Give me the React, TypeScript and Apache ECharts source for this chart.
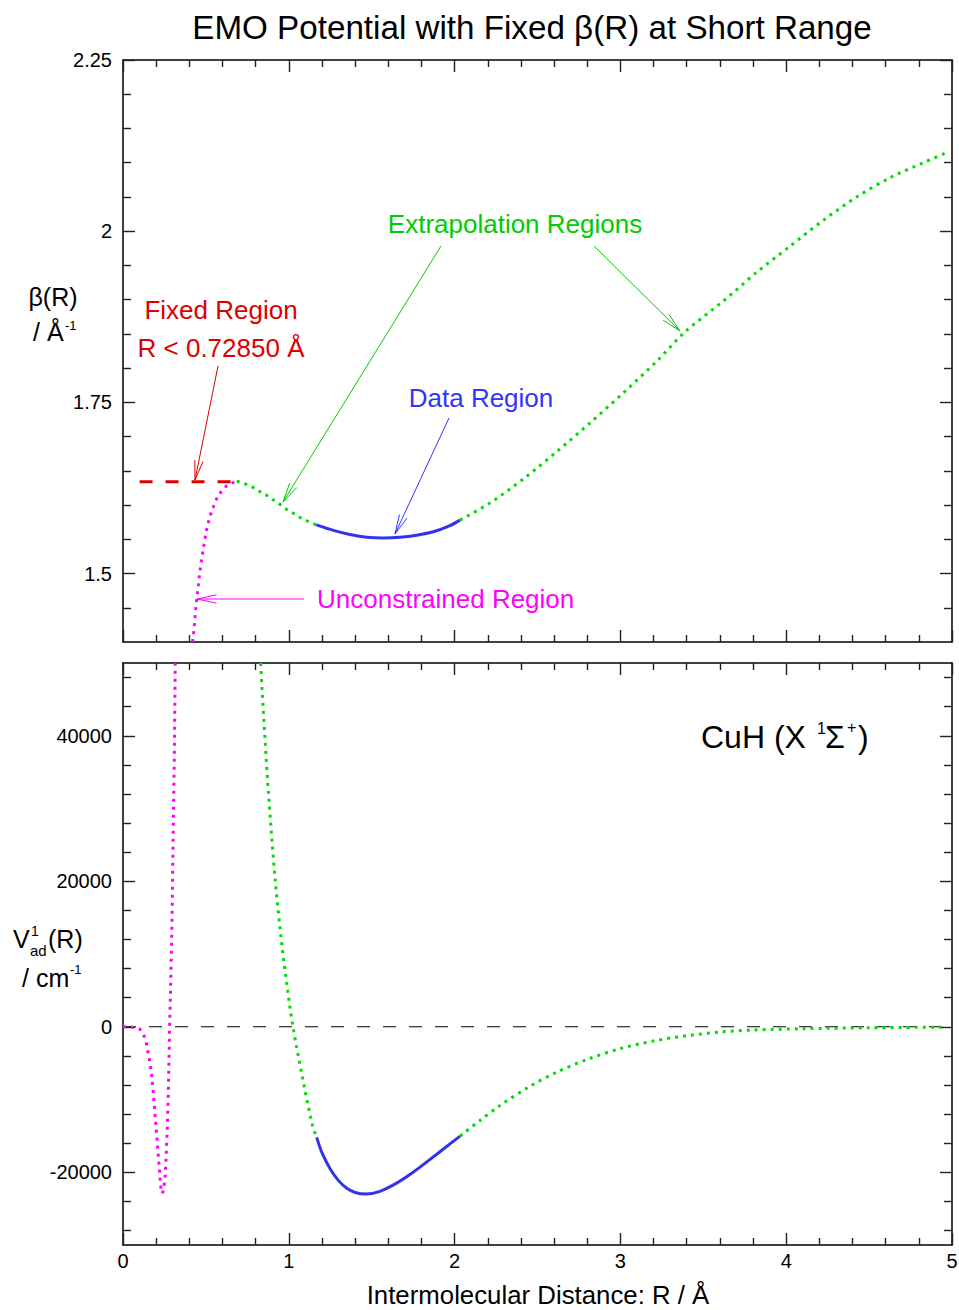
import React, { useEffect, useRef } from 'react';
import * as echarts from 'echarts';

// ---- tick values ----
const xMajor = [0, 1, 2, 3, 4, 5];
const xMinor = [0.2, 0.4, 0.6, 0.8, 1.2, 1.4, 1.6, 1.8, 2.2, 2.4, 2.6, 2.8, 3.2, 3.4, 3.6, 3.8, 4.2, 4.4, 4.6, 4.8];
const betaMajor = [1.5, 1.75, 2, 2.25];
const betaMinor = [1.45, 1.55, 1.6, 1.65, 1.7, 1.8, 1.85, 1.9, 1.95, 2.05, 2.1, 2.15, 2.2];
const vMajor = [-20000, 0, 20000, 40000];
const vMinor = [-28000, -24000, -16000, -12000, -8000, -4000, 4000, 8000, 12000, 16000, 24000, 28000, 32000, 36000, 44000, 48000];

// ---- beta(R) panel ----
const betaFixed = [[0.10, 1.634], [0.67, 1.634]];
const betaUnconstrained = [
  [0.420, 1.400], [0.430, 1.423], [0.438, 1.447], [0.450, 1.474], [0.462, 1.499], [0.475, 1.522],
  [0.490, 1.545], [0.509, 1.570], [0.537, 1.593], [0.575, 1.615], [0.625, 1.628], [0.665, 1.633], [0.686, 1.635],
];
const betaExtrapShort = [
  [0.686, 1.635], [0.726, 1.632], [0.776, 1.627], [0.816, 1.621], [0.861, 1.615], [0.903, 1.608],
  [0.947, 1.601], [0.985, 1.594], [1.027, 1.588], [1.074, 1.581], [1.118, 1.576], [1.166, 1.571],
];
const betaData = [
  [1.166, 1.571], [1.269, 1.563], [1.369, 1.557], [1.470, 1.553], [1.570, 1.552], [1.671, 1.553],
  [1.771, 1.556], [1.872, 1.561], [1.972, 1.570], [2.033, 1.578],
];
const betaExtrapLong = [
  [2.033, 1.578], [2.213, 1.603], [2.414, 1.638], [2.616, 1.678], [2.817, 1.720], [3.018, 1.764],
  [3.219, 1.810], [3.390, 1.853], [3.621, 1.898], [3.822, 1.940], [4.023, 1.978], [4.224, 2.016],
  [4.425, 2.050], [4.626, 2.078], [4.827, 2.100], [4.970, 2.115],
];

// ---- V(R) panel ----
const vZero = [[0, 0], [5, 0]];
const vUnconstrained = [
  [0.0, 0], [0.05, -20], [0.10, -300], [0.125, -1100], [0.14, -2200], [0.15, -3400], [0.16, -4600],
  [0.167, -5700], [0.175, -7000], [0.183, -9100], [0.191, -11400], [0.199, -13700], [0.207, -16000],
  [0.215, -18300], [0.223, -20600], [0.229, -22200], [0.235, -22900], [0.241, -22700], [0.248, -21800],
  [0.254, -20600], [0.259, -18500], [0.263, -16300], [0.267, -14000], [0.270, -11700], [0.273, -9400],
  [0.276, -6000], [0.279, -2600], [0.282, 900], [0.285, 3300], [0.290, 8500], [0.296, 15100],
  [0.304, 28800], [0.310, 38000], [0.315, 50000],
];
const vExtrapShort = [
  [0.830, 50000], [0.838, 46610], [0.847, 43180], [0.856, 39790], [0.865, 36310], [0.875, 32870],
  [0.886, 29440], [0.897, 26010], [0.909, 22570], [0.922, 19140], [0.937, 15700], [0.953, 12270],
  [0.971, 8830], [0.991, 5400], [1.011, 1960], [1.028, -390], [1.045, -2600], [1.064, -4810],
  [1.083, -7020], [1.103, -9370], [1.124, -11680], [1.146, -13890], [1.168, -15200],
];
const vData = [
  [1.168, -15200], [1.2, -17300], [1.25, -19550], [1.3, -21150], [1.35, -22200], [1.4, -22780],
  [1.466, -23000], [1.55, -22620], [1.65, -21500], [1.75, -20000], [1.85, -18270], [1.95, -16500],
  [2.033, -15030],
];
const vExtrapLong = [
  [2.033, -15030], [2.153, -12880], [2.274, -10820], [2.445, -8310], [2.622, -6170], [2.807, -4430],
  [2.998, -3010], [3.198, -1960], [3.400, -1230], [3.601, -730], [3.802, -450], [4.103, -270],
  [4.505, -140], [4.968, -50],
];

const FONT = '"Liberation Sans", Arial, Helvetica, sans-serif';
const GREEN = '#00dd00';
const GREEN_T = '#00cc00';
const BLUE = '#3333ee';
const BLUE_T = '#3333ff';
const RED = '#dd0000';
const MAG = '#ff00ff';

function axis(kind: 'x' | 'y', grid: number, position: string, min: number, max: number,
  ticks: number[], len: number, showLine: boolean, labels: number[] | null) {
  return {
    type: 'value', gridIndex: grid, position, min, max,
    axisLine: { show: showLine, onZero: false, lineStyle: { color: '#000', width: 1.5 } },
    axisTick: { show: true, inside: true, length: len, customValues: ticks, lineStyle: { color: '#222', width: 1.4 } },
    axisLabel: labels ? {
      show: true, customValues: labels, color: '#000', fontSize: 20, fontFamily: FONT,
      margin: kind === 'x' ? 6 : 11, formatter: (v: number) => String(v),
    } : { show: false },
    splitLine: { show: false },
    minorTick: { show: false },
  };
}

function arrow(x1: number, y1: number, x2: number, y2: number, color: string) {
  const ang = Math.atan2(y2 - y1, x2 - x1);
  const L = 20, a = (12 * Math.PI) / 180;
  const b1 = [x2 - L * Math.cos(ang - a), y2 - L * Math.sin(ang - a)];
  const b2 = [x2 - L * Math.cos(ang + a), y2 - L * Math.sin(ang + a)];
  return [
    { type: 'line', shape: { x1, y1, x2, y2 }, style: { stroke: color, lineWidth: 1 } },
    { type: 'polyline', shape: { points: [b1, [x2, y2], b2] }, style: { stroke: color, fill: null, lineWidth: 1 } },
  ];
}

function txt(x: number, y: number, text: string, size: number, color: string, align = 'center') {
  return {
    type: 'text', x, y,
    style: { text, fill: color, fontSize: size, fontFamily: FONT, align, verticalAlign: 'middle' },
  };
}

function line(name: string, data: number[][], xi: number, yi: number, color: string, width: number,
  type: any, smooth: number | boolean = false) {
  return {
    name, type: 'line', xAxisIndex: xi, yAxisIndex: yi, data, symbol: 'none', smooth,
    lineStyle: { color, width, type, cap: 'butt' }, silent: true, clip: true,
  };
}

export default function App() {
  const ref = useRef<HTMLDivElement>(null);
  useEffect(() => {
    if (!ref.current) return;
    const chart = echarts.init(ref.current, undefined, { renderer: 'svg' });
    const dot = [3, 5];
    const option: any = {
      animation: false,
      backgroundColor: '#fff',
      textStyle: { fontFamily: FONT },
      grid: [
        { left: 123, top: 60, width: 829, height: 582, outerBoundsMode: 'none', containLabel: false },
        { left: 123, top: 663, width: 829, height: 582, outerBoundsMode: 'none', containLabel: false },
      ],
      xAxis: [
        axis('x', 0, 'bottom', 0, 5, xMajor, 12, true, null),
        axis('x', 0, 'bottom', 0, 5, xMinor, 7, false, null),
        axis('x', 0, 'top', 0, 5, xMajor, 12, true, null),
        axis('x', 0, 'top', 0, 5, xMinor, 7, false, null),
        axis('x', 1, 'bottom', 0, 5, xMajor, 12, true, xMajor),
        axis('x', 1, 'bottom', 0, 5, xMinor, 7, false, null),
        axis('x', 1, 'top', 0, 5, xMajor, 12, true, null),
        axis('x', 1, 'top', 0, 5, xMinor, 7, false, null),
      ],
      yAxis: [
        axis('y', 0, 'left', 1.4, 2.25, betaMajor, 12, true, betaMajor),
        axis('y', 0, 'left', 1.4, 2.25, betaMinor, 8, false, null),
        axis('y', 0, 'right', 1.4, 2.25, betaMajor, 12, true, null),
        axis('y', 0, 'right', 1.4, 2.25, betaMinor, 8, false, null),
        axis('y', 1, 'left', -30000, 50000, vMajor, 12, true, vMajor),
        axis('y', 1, 'left', -30000, 50000, vMinor, 8, false, null),
        axis('y', 1, 'right', -30000, 50000, vMajor, 12, true, null),
        axis('y', 1, 'right', -30000, 50000, vMinor, 8, false, null),
      ],
      series: [
        line('Fixed', betaFixed, 0, 0, RED, 3, [13, 13]),
        line('Unconstrained β', betaUnconstrained, 0, 0, MAG, 3, dot),
        line('Extrapolation β short', betaExtrapShort, 0, 0, GREEN, 3, dot),
        line('Data β', betaData, 0, 0, BLUE, 3, 'solid', 0.3),
        line('Extrapolation β long', betaExtrapLong, 0, 0, GREEN, 3, dot, 0.3),
        line('Zero', vZero, 4, 4, '#000', 1.2, [13, 13]),
        line('Unconstrained V', vUnconstrained, 4, 4, MAG, 3, dot),
        line('Extrapolation V short', vExtrapShort, 4, 4, GREEN, 3, dot),
        line('Data V', vData, 4, 4, BLUE, 3, 'solid', 0.3),
        line('Extrapolation V long', vExtrapLong, 4, 4, GREEN, 3, dot, 0.3),
      ],
      graphic: [
        txt(532, 27, 'EMO Potential with Fixed β(R) at Short Range', 33.2, '#000'),
        txt(538, 1295, 'Intermolecular Distance: R / Å', 25.8, '#000'),
        // beta axis name
        txt(53, 297, 'β(R)', 25, '#000'),
        txt(33, 332, '/ Å', 25, '#000', 'left'),
        txt(65, 325, '-1', 13, '#000', 'left'),
        // V axis name
        txt(13, 939, 'V', 25, '#000', 'left'),
        txt(31, 931, '1', 14, '#000', 'left'),
        txt(30, 950, 'ad', 15, '#000', 'left'),
        txt(48, 939, '(R)', 25, '#000', 'left'),
        txt(22, 978, '/ cm', 25, '#000', 'left'),
        txt(70, 969, '-1', 13, '#000', 'left'),
        // annotations
        txt(515, 224, 'Extrapolation Regions', 26, GREEN_T),
        txt(481, 398, 'Data Region', 26, BLUE_T),
        txt(221, 310, 'Fixed Region', 26, RED),
        txt(221, 348, 'R < 0.72850 Å', 26, RED),
        txt(317, 599, 'Unconstrained Region', 26, MAG, 'left'),
        txt(701, 737, 'CuH (X', 32, '#000', 'left'),
        txt(817, 728, '1', 16, '#000', 'left'),
        txt(825, 737, 'Σ', 32, '#000', 'left'),
        txt(847, 727, '+', 16, '#000', 'left'),
        txt(858, 737, ')', 32, '#000', 'left'),
        ...arrow(218, 366, 195, 480, RED),
        ...arrow(441, 246, 283, 502, GREEN_T),
        ...arrow(594, 246, 680, 331, GREEN_T),
        ...arrow(449, 418, 395, 534, BLUE_T),
        ...arrow(304, 599, 197, 599, MAG),
      ],
    };
    chart.setOption(option);
    return () => chart.dispose();
  }, []);
  return (
    <div
      ref={ref}
      style={{ position: 'absolute', left: 0, top: 0, width: 959, height: 1310, background: '#fff' }}
    />
  );
}
